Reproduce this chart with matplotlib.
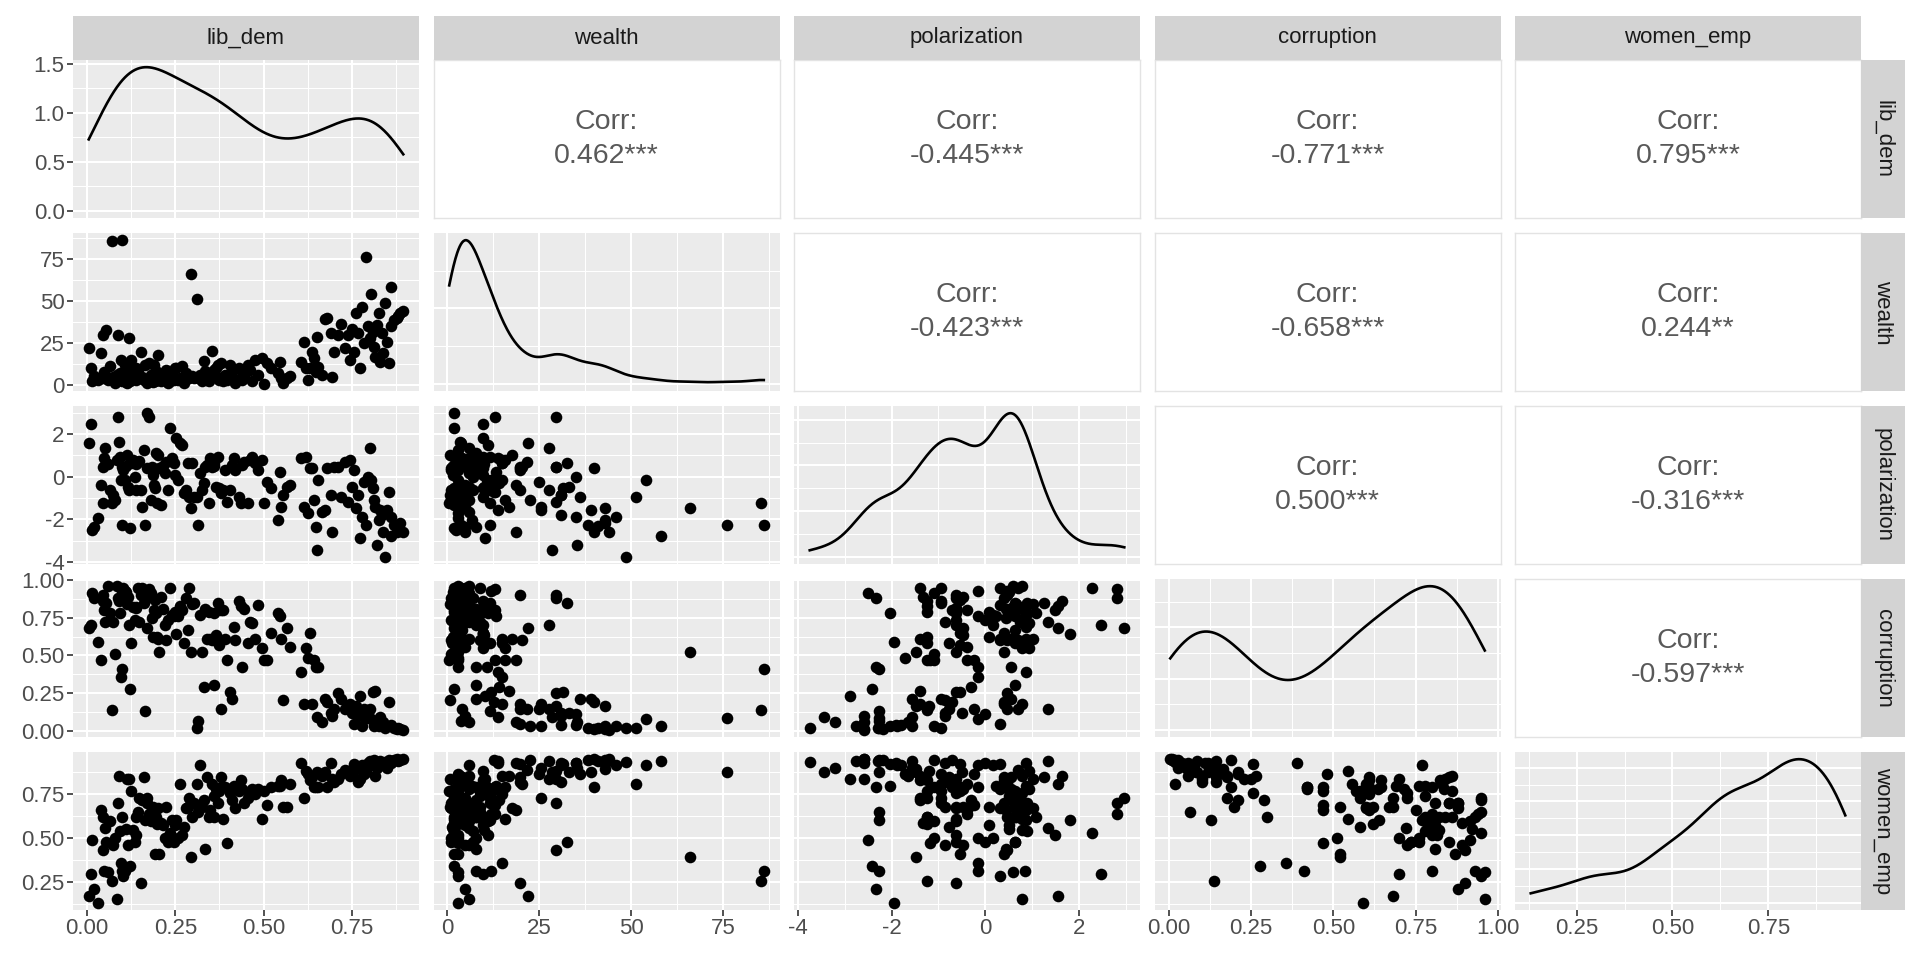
import numpy as np
import matplotlib
matplotlib.use("Agg")
import matplotlib.pyplot as plt
from matplotlib.ticker import MaxNLocator, AutoMinorLocator, FormatStrFormatter

plt.rcParams['font.family'] = ['Liberation Sans', 'DejaVu Sans']
plt.rcParams['axes.unicode_minus'] = False

variables = ["lib_dem", "wealth", "polarization", "corruption", "women_emp"]

lib_dem = [0.005, 0.012, 0.014, 0.02, 0.03, 0.04, 0.044, 0.048, 0.046, 0.05,
           0.055, 0.06, 0.065, 0.07, 0.075, 0.08, 0.085, 0.088, 0.09, 0.093,
           0.096, 0.098, 0.1, 0.103, 0.108, 0.112, 0.116, 0.12, 0.122, 0.125,
           0.13, 0.135, 0.14, 0.145, 0.148, 0.152, 0.155, 0.16, 0.165, 0.17,
           0.175, 0.18, 0.185, 0.188, 0.192, 0.196, 0.199, 0.202, 0.205, 0.21,
           0.215, 0.22, 0.225, 0.23, 0.235, 0.24, 0.245, 0.248, 0.252, 0.258,
           0.263, 0.27, 0.275, 0.28, 0.285, 0.29, 0.295, 0.298, 0.302, 0.31,
           0.315, 0.32, 0.325, 0.33, 0.335, 0.34, 0.345, 0.348, 0.355, 0.36,
           0.365, 0.37, 0.375, 0.38, 0.385, 0.39, 0.397, 0.405, 0.41, 0.415,
           0.42, 0.43, 0.435, 0.44, 0.445, 0.455, 0.46, 0.468, 0.475, 0.485,
           0.495, 0.5, 0.51, 0.52, 0.54, 0.545, 0.55, 0.555, 0.565,
           0.575, 0.605, 0.613, 0.62, 0.625, 0.632, 0.638, 0.642, 0.648,
           0.65, 0.655, 0.665, 0.674, 0.68, 0.69, 0.693, 0.7, 0.71, 0.72,
           0.731, 0.74, 0.745, 0.75, 0.755, 0.762, 0.768, 0.773, 0.778, 0.785,
           0.79, 0.795, 0.8, 0.805, 0.81, 0.812, 0.815, 0.82, 0.825, 0.83,
           0.835, 0.838, 0.842, 0.849, 0.854, 0.861, 0.87, 0.878, 0.887, 0.895,
           0.11, 0.14, 0.17, 0.19, 0.36, 0.38, 0.86, 0.88]

wealth = [22, 9.8, 2.4, 5, 3, 18.7, 29.5, 7.9, 4, 6,
          32.5, 3, 11, 85.3, 4.9, 1.2, 6, 29.5, 3.5, 7,
          14.8, 86, 2.5, 3, 12, 0.9, 6, 27.6, 2, 14.8,
          10, 7, 3, 9, 5, 19.7, 4.9, 3, 11.8, 2,
          13, 6, 5.9, 1.5, 2, 8, 3, 17.7, 3, 2,
          5, 7.9, 9, 1.0, 2, 6, 3, 9.8, 9.8, 3,
          3.9, 11, 1.3, 7, 4, 3.9, 66, 5, 4, 51.2,
          3.9, 6, 2, 14, 8, 3, 2, 4, 20.3, 7.9,
          10, 11.8, 3, 4, 2, 6, 3, 12, 7.9, 3,
          1.1, 9.8, 4, 3, 6, 11.8, 9, 2, 14.8, 6,
          15.7, 0.6, 13, 9.8, 6.9, 13.4, 4, 0.8, 3.9,
          5, 13.8, 25.6, 9.8, 3.0, 9.8, 19.7, 15.7, 7.9,
          28.5, 10.8, 6, 39, 40, 31, 4.9, 19.7, 29.5, 36,
          21.7, 29.5, 15, 33, 19.7, 43, 31, 10.2, 46, 25,
          76, 35, 27.6, 54, 31.5, 22.6, 16.7, 35.4, 43, 13.8,
          31, 18.7, 48.6, 25.6, 12.8, 58, 38.4, 40, 43, 44,
          1.5, 10, 1.2, 12, 9, 13, 35, 41]

polarization = [1.56, 2.47, -2.5, -2.34, -1.95, -0.39, 0.47, 0.85, -1.25, 1.33,
                0.63, 0.6, -0.63, -1.25, -0.86, -1.09, 0.78, 2.81, 1.64, 0.9,
                -0.16, -2.27, 0.47, 0.31, -0.16, 1.02, -0.47, -0.63, -2.42, 0.63,
                0.78, 0.0, -0.63, 0.70, 0.75, -0.63, -1.4, 1.25, -2.27, 2.97,
                2.81, -1.09, 0.45, 0.08, -0.55, 1.09, -1.25, 1.02, 0.4, -1.33,
                0.5, 0.16, 0.70, -0.63, 2.27, 0.86, 0.63, 0.08, 1.8, -0.16,
                1.56, 1.48, -0.78, -0.63, 0.63, -0.94, -1.48, 0.65, -0.94, -0.94,
                -2.27, 0.16, -0.63, -0.31, 0.45, 0.55, -1.25, 0.86, 0.47, 0.63,
                -0.47, 0.9, -0.55, -0.78, -0.63, 0.31, -1.17, -0.63, 0.55, 0.86,
                0.31, -0.94, -1.25, 0.55, 0.70, -1.25, 0.78, 0.94, 0.63, 0.31,
                0.78, -1.25, -0.23, -0.55, -2.03, 0.23, -1.4, -0.86, -0.47,
                -0.39, 0.86, -1.4, 0.94, -1.72, 0.4, 0.39, -1.09, -2.34,
                -3.44, -0.16, -1.64, -1.56, 0.39, -0.86, -2.58, 0.47, 0.47, -0.94,
                0.70, -1.2, 0.78, -0.5, 0.31, -1.48, -0.86, -2.89, -1.88, -0.23,
                -2.27, 0.0, 1.33, -0.16, -0.55, -1.09, -1.4, -3.2, -2.03, -1.56,
                -1.8, -2.58, -3.75, -1.56, -0.7, -2.76, -2.27, -2.58, -2.19, -2.58,
                0.5, 0.6, 0.4, -0.4, 0.5, -0.7, -1.9, -2.3]

corruption = [0.68, 0.70, 0.915, 0.88, 0.59, 0.47, 0.90, 0.80, 0.86, 0.72,
              0.85, 0.96, 0.78, 0.137, 0.725, 0.51, 0.96, 0.88, 0.86, 0.78,
              0.356, 0.41, 0.93, 0.95, 0.93, 0.84, 0.89, 0.70, 0.277, 0.58,
              0.82, 0.736, 0.814, 0.95, 0.725, 0.90, 0.95, 0.85, 0.13, 0.68,
              0.94, 0.915, 0.75, 0.62, 0.87, 0.78, 0.62, 0.61, 0.52, 0.89,
              0.81, 0.70, 0.60, 0.736, 0.95, 0.77, 0.76, 0.79, 0.64, 0.76,
              0.83, 0.80, 0.58, 0.88, 0.67, 0.95, 0.52, 0.84, 0.85, 0.02,
              0.065, 0.77, 0.52, 0.29, 0.81, 0.61, 0.79, 0.61, 0.60, 0.30,
              0.635, 0.85, 0.57, 0.143, 0.80, 0.61, 0.47, 0.255, 0.21, 0.69,
              0.60, 0.86, 0.825, 0.42, 0.81, 0.58, 0.725, 0.714, 0.61, 0.837,
              0.546, 0.47, 0.47, 0.646, 0.78, 0.76, 0.61, 0.20, 0.68,
              0.557, 0.39, 0.177, 0.546, 0.48, 0.646, 0.177, 0.47, 0.42,
              0.087, 0.42, 0.06, 0.21, 0.19, 0.12, 0.10, 0.143, 0.25, 0.21,
              0.143, 0.166, 0.177, 0.12, 0.042, 0.166, 0.10, 0.23, 0.03, 0.143,
              0.084, 0.11, 0.143, 0.076, 0.255, 0.03, 0.266, 0.054, 0.03, 0.087,
              0.04, 0.06, 0.02, 0.03, 0.19, 0.03, 0.02, 0.01, 0.01, 0.005,
              0.92, 0.82, 0.88, 0.80, 0.78, 0.80, 0.04, 0.02]

women_emp = [0.17, 0.295, 0.49, 0.21, 0.13, 0.66, 0.43, 0.31, 0.62, 0.56,
             0.478, 0.308, 0.595, 0.256, 0.46, 0.50, 0.15, 0.70, 0.853, 0.54,
             0.36, 0.31, 0.62, 0.285, 0.314, 0.837, 0.46, 0.837, 0.343, 0.77,
             0.546, 0.478, 0.52, 0.65, 0.73, 0.246, 0.72, 0.847, 0.605, 0.73,
             0.64, 0.595, 0.66, 0.68, 0.41, 0.62, 0.58, 0.67, 0.41, 0.585,
             0.575, 0.50, 0.68, 0.48, 0.53, 0.605, 0.478, 0.575, 0.605, 0.50,
             0.81, 0.52, 0.565, 0.67, 0.68, 0.73, 0.39, 0.62, 0.70, 0.81,
             0.65, 0.915, 0.68, 0.72, 0.44, 0.847, 0.62, 0.66, 0.81, 0.62,
             0.78, 0.70, 0.77, 0.847, 0.61, 0.79, 0.47, 0.76, 0.72, 0.80,
             0.67, 0.77, 0.83, 0.78, 0.70, 0.73, 0.76, 0.78, 0.75, 0.78,
             0.61, 0.77, 0.69, 0.79, 0.80, 0.80, 0.83, 0.68, 0.68,
             0.81, 0.932, 0.73, 0.885, 0.865, 0.83, 0.847, 0.79, 0.79,
             0.88, 0.79, 0.855, 0.875, 0.79, 0.932, 0.835, 0.82, 0.835, 0.865,
             0.89, 0.885, 0.855, 0.88, 0.925, 0.895, 0.82, 0.84, 0.92, 0.865,
             0.876, 0.932, 0.94, 0.915, 0.925, 0.945, 0.855, 0.90, 0.925, 0.94,
             0.92, 0.932, 0.937, 0.90, 0.945, 0.94, 0.948, 0.951, 0.948, 0.951,
             0.55, 0.62, 0.70, 0.64, 0.74, 0.79, 0.93, 0.94]

# correlation labels of the upper panels, as printed in the reference
corr_labels = {
    (0, 1): "0.462***", (0, 2): "-0.445***", (0, 3): "-0.771***", (0, 4): "0.795***",
    (1, 2): "-0.423***", (1, 3): "-0.658***", (1, 4): "0.244**",
    (2, 3): "0.500***", (2, 4): "-0.316***",
    (3, 4): "-0.597***",
}

# axis breaks per variable
breaks = {
    "lib_dem": [0, 0.25, 0.5, 0.75],
    "wealth": [0, 25, 50, 75],
    "polarization": [-4, -2, 0, 2],
    "corruption": [0, 0.25, 0.5, 0.75, 1.0],
    "women_emp": [0.25, 0.5, 0.75],
}
break_labels = {
    "lib_dem": ["0.00", "0.25", "0.50", "0.75"],
    "wealth": ["0", "25", "50", "75"],
    "polarization": ["-4", "-2", "0", "2"],
    "corruption": ["0.00", "0.25", "0.50", "0.75", "1.00"],
    "women_emp": ["0.25", "0.50", "0.75"],
}

data = {"lib_dem": lib_dem, "wealth": wealth, "polarization": polarization,
        "corruption": corruption, "women_emp": women_emp}

PANEL_BG = "#EBEBEB"
STRIP_BG = "#D3D3D3"
TICK_TXT = "#4D4D4D"
FS = 16


def expand(vals, mult=0.05):
    lo, hi = min(vals), max(vals)
    pad = (hi - lo) * mult
    return lo - pad, hi + pad


def minor_breaks(major, lims):
    step = major[1] - major[0]
    ext = [major[0] - step] + list(major) + [major[-1] + step]
    mids = [(a + b) / 2 for a, b in zip(ext[:-1], ext[1:])]
    return [m for m in mids if lims[0] <= m <= lims[1]]


# Gaussian KDE with R's default bandwidth (bw.nrd0), like geom_density
def density_curve(values, n=512):
    x = np.asarray(values, float)
    sd = x.std(ddof=1)
    q75, q25 = np.percentile(x, [75, 25])
    bw = 0.9 * min(sd, (q75 - q25) / 1.34) * len(x) ** -0.2
    grid = np.linspace(x.min(), x.max(), n)
    z = (grid[:, None] - x[None, :]) / bw
    dens = np.exp(-0.5 * z ** 2).sum(axis=1) / (len(x) * bw * np.sqrt(2 * np.pi))
    return grid, dens


lims = {v: expand(data[v]) for v in variables}

W, H = 1920, 960
LEFT0, COLW, COLPITCH = 73, 346, 360.5
TOP0, ROWH, ROWPITCH = 60, 158, 173
STRIP = 44

fig = plt.figure(figsize=(W / 100, H / 100), dpi=100)


def rect(i, j):
    x0 = LEFT0 + j * COLPITCH
    y0 = TOP0 + i * ROWPITCH
    return [x0 / W, 1 - (y0 + ROWH) / H, COLW / W, ROWH / H]


def style_ticks(ax, show_x, show_y):
    ax.tick_params(which="major", length=4, width=1.2, color="#333333",
                   labelsize=FS, labelcolor=TICK_TXT, pad=2)
    ax.tick_params(which="minor", length=0)
    ax.tick_params(axis="x", bottom=show_x, labelbottom=show_x)
    ax.tick_params(axis="y", left=show_y, labelleft=show_y)


n = len(variables)
for i, yv in enumerate(variables):
    for j, xv in enumerate(variables):
        ax = fig.add_axes(rect(i, j))
        if i < j:
            # upper triangle: correlation text
            ax.set_facecolor("white")
            for s in ax.spines.values():
                s.set_color("#E3E3E3")
                s.set_linewidth(1.0)
            ax.set_xticks([])
            ax.set_yticks([])
            ax.text(0.5, 0.61, "Corr:", ha="center", va="center", fontsize=20.5,
                    color="#595959", transform=ax.transAxes)
            ax.text(0.5, 0.39, corr_labels[(i, j)], ha="center", va="center",
                    fontsize=20.5, color="#595959", transform=ax.transAxes)
            continue

        ax.set_facecolor(PANEL_BG)
        for s in ax.spines.values():
            s.set_visible(False)
        ax.set_axisbelow(True)
        ax.set_xlim(*lims[xv])
        ax.set_xticks(breaks[xv])
        ax.set_xticklabels(break_labels[xv])
        ax.set_xticks(minor_breaks(breaks[xv], lims[xv]), minor=True)

        if i == j:
            gx, gy = density_curve(data[xv])
            ax.plot(gx, gy, color="black", lw=1.9, zorder=3)
            top = gy.max()
            ax.set_ylim(-0.05 * top, 1.05 * top)
            ax.yaxis.set_major_locator(MaxNLocator(nbins=5, steps=[1, 2.5, 5, 10]))
            ax.yaxis.set_minor_locator(AutoMinorLocator(2))
            ax.yaxis.set_major_formatter(FormatStrFormatter("%.1f"))
        else:
            ax.scatter(data[xv], data[yv], s=70, c="black", linewidths=0, zorder=3)
            ax.set_ylim(*lims[yv])
            ax.set_yticks(breaks[yv])
            ax.set_yticklabels(break_labels[yv])
            ax.set_yticks(minor_breaks(breaks[yv], lims[yv]), minor=True)

        ax.grid(which="major", color="white", lw=1.5)
        ax.grid(which="minor", color="white", lw=0.75)
        style_ticks(ax, show_x=(i == n - 1), show_y=(j == 0))

# top strips
for j, v in enumerate(variables):
    x0 = LEFT0 + j * COLPITCH
    sax = fig.add_axes([x0 / W, 1 - TOP0 / H, COLW / W, STRIP / H])
    sax.set_facecolor(STRIP_BG)
    sax.set_xticks([])
    sax.set_yticks([])
    for s in sax.spines.values():
        s.set_visible(False)
    sax.text(0.5, 0.5, v, ha="center", va="center", fontsize=FS, color="#1A1A1A",
             transform=sax.transAxes)

# right strips
xr = LEFT0 + (n - 1) * COLPITCH + COLW
for i, v in enumerate(variables):
    y0 = TOP0 + i * ROWPITCH
    sax = fig.add_axes([xr / W, 1 - (y0 + ROWH) / H, STRIP / W, ROWH / H])
    sax.set_facecolor(STRIP_BG)
    sax.set_xticks([])
    sax.set_yticks([])
    for s in sax.spines.values():
        s.set_visible(False)
    sax.text(0.5, 0.5, v, ha="center", va="center", fontsize=FS, color="#1A1A1A",
             rotation=-90, transform=sax.transAxes)

fig.savefig("out.png", dpi=100, facecolor="white")
